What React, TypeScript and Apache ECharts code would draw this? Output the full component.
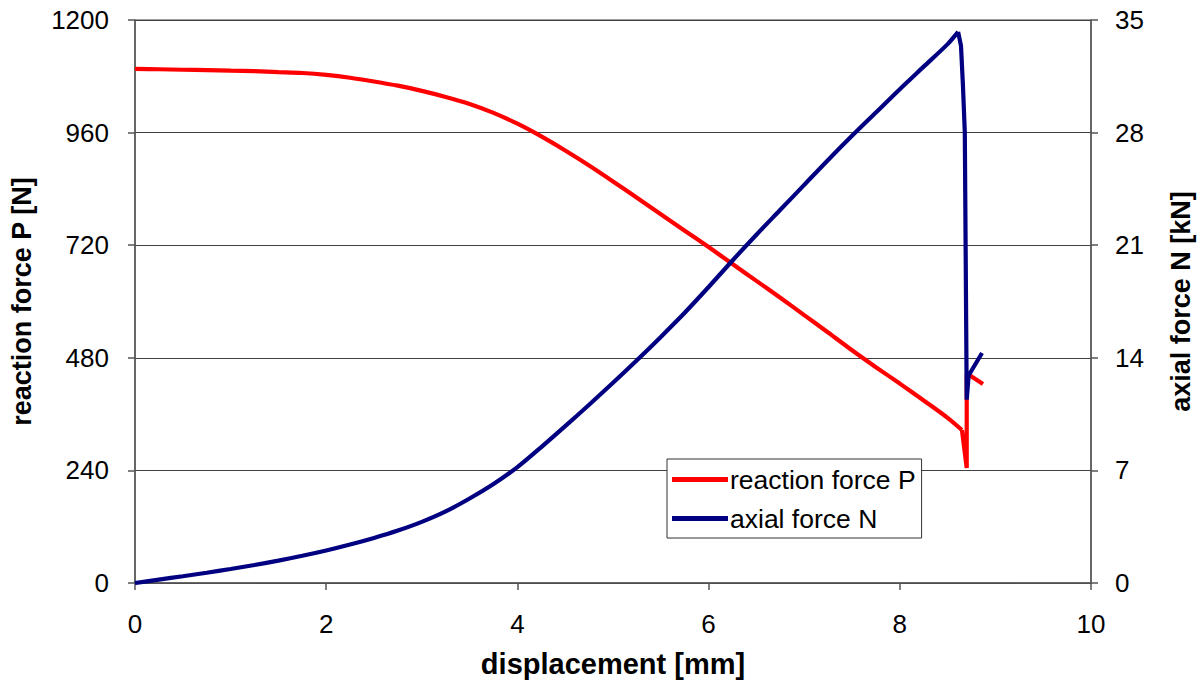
import React, { useEffect, useRef } from "react";
import * as echarts from "echarts";

// displacement [mm] and reaction force P [N] — smooth loading branch
const pX = [0, 0.25, 0.5, 0.75, 1.0, 1.25, 1.5, 1.75, 2.0, 2.25, 2.5, 2.75, 3.0, 3.25, 3.5, 3.75, 4.0, 4.25, 4.5, 4.75, 5.0, 5.25, 5.5, 5.75, 6.0, 6.25, 6.5, 6.75, 7.0, 7.25, 7.5, 7.75, 8.0, 8.25, 8.5, 8.65];
const pY = [1096, 1095, 1094, 1093, 1092, 1091, 1089, 1087, 1083, 1077, 1069, 1060, 1049, 1036, 1021, 1002, 979, 952, 922, 890, 856, 821, 786, 751, 716, 680, 644, 608, 571, 534, 496, 460, 425, 389, 352, 326];
// reaction force P — failure branch
const pFailX = [8.65, 8.7, 8.7, 8.73, 8.87];
const pFailY = [326, 245, 445, 443, 424];

// displacement [mm] and axial force N [kN] — smooth loading branch
const nX = [0, 0.25, 0.5, 0.75, 1.0, 1.25, 1.5, 1.75, 2.0, 2.25, 2.5, 2.75, 3.0, 3.25, 3.5, 3.75, 4.0, 4.25, 4.5, 4.75, 5.0, 5.25, 5.5, 5.75, 6.0, 6.25, 6.5, 6.75, 7.0, 7.25, 7.5, 7.75, 8.0, 8.25, 8.5, 8.61];
const nY = [0, 0.21, 0.42, 0.64, 0.87, 1.12, 1.39, 1.69, 2.02, 2.39, 2.8, 3.26, 3.8, 4.45, 5.25, 6.15, 7.2, 8.45, 9.75, 11.08, 12.45, 13.85, 15.3, 16.8, 18.4, 20.05, 21.65, 23.2, 24.75, 26.3, 27.8, 29.25, 30.7, 32.1, 33.5, 34.26];
// axial force N — failure branch
const nFailX = [8.61, 8.64, 8.66, 8.68, 8.7, 8.72, 8.86];
const nFailY = [34.26, 33.4, 31.0, 28.0, 11.4, 12.9, 14.3];

const seriesNames = ["reaction force P", "axial force N"];
const xName = "displacement [mm]";
const yLeftName = "reaction force P [N]";
const yRightName = "axial force N [kN]";

export default function App() {
  const ref = useRef<HTMLDivElement>(null);
  useEffect(() => {
    if (!ref.current) return;
    const chart = echarts.init(ref.current, undefined, { renderer: "svg" });
    const font = "'Liberation Sans', Arial, sans-serif";
    const axisCol = "#555555";
    const plain = (v: number) => String(v);
    const red = "#ff0000";
    const navy = "#000080";
    const lineSeries = (name: string, xs: number[], ys: number[], axis: number, color: string, smooth: number | boolean) => ({
      name,
      type: "line",
      yAxisIndex: axis,
      data: xs.map((x, i) => [x, ys[i]]),
      showSymbol: false,
      symbol: "none",
      smooth,
      lineStyle: { color, width: 4.2 },
      itemStyle: { color },
    });
    chart.setOption({
      animation: false,
      textStyle: { fontFamily: font },
      grid: {
        left: 135,
        right: 109,
        top: 20,
        bottom: 106,
        show: true,
        borderColor: "#404040",
        borderWidth: 1,
        backgroundColor: "transparent",
      },
      legend: {
        orient: "vertical",
        left: 667,
        top: 459,
        backgroundColor: "#ffffff",
        borderColor: "#333333",
        borderWidth: 1,
        borderRadius: 0,
        padding: [7, 6, 6, 5],
        itemGap: 12,
        itemWidth: 56,
        itemHeight: 5,
        icon: "rect",
        textStyle: { fontSize: 26.5, color: "#000", fontFamily: font, padding: [0, 0, 0, -3] },
        data: seriesNames,
      },
      xAxis: {
        type: "value",
        min: 0,
        max: 10,
        interval: 2,
        name: xName,
        nameLocation: "middle",
        nameGap: 66,
        nameTextStyle: { fontSize: 29, fontWeight: "bold", color: "#000", fontFamily: font },
        axisLine: { show: true, lineStyle: { color: axisCol, width: 1.5 } },
        axisTick: { show: true, inside: false, length: 7, lineStyle: { color: axisCol, width: 1.5 } },
        axisLabel: { fontSize: 26, color: "#000", margin: 28, fontFamily: font, formatter: plain },
        splitLine: { show: false },
      },
      yAxis: [
        {
          type: "value",
          min: 0,
          max: 1200,
          interval: 240,
          position: "left",
          name: yLeftName,
          nameLocation: "middle",
          nameRotate: 90,
          nameGap: 100,
          nameTextStyle: { fontSize: 27, fontWeight: "bold", color: "#000", fontFamily: font },
          axisLine: { show: true, lineStyle: { color: axisCol, width: 1.5 } },
          axisTick: { show: true, inside: false, length: 7, lineStyle: { color: axisCol, width: 1.5 } },
          axisLabel: { fontSize: 26, color: "#000", margin: 26, fontFamily: font, formatter: plain },
          splitLine: { show: true, lineStyle: { color: "#404040", width: 1 } },
        },
        {
          type: "value",
          min: 0,
          max: 35,
          interval: 7,
          position: "right",
          name: yRightName,
          nameLocation: "middle",
          nameRotate: 90,
          nameGap: 76,
          nameTextStyle: { fontSize: 27, fontWeight: "bold", color: "#000", fontFamily: font },
          axisLine: { show: true, lineStyle: { color: axisCol, width: 1.5 } },
          axisTick: { show: true, inside: false, length: 7, lineStyle: { color: axisCol, width: 1.5 } },
          axisLabel: { fontSize: 26, color: "#000", margin: 24, fontFamily: font, formatter: plain },
          splitLine: { show: false },
        },
      ],
      series: [
        lineSeries(seriesNames[0], pX, pY, 0, red, 0.3),
        lineSeries(seriesNames[0], pFailX, pFailY, 0, red, false),
        lineSeries(seriesNames[1], nX, nY, 1, navy, 0.3),
        lineSeries(seriesNames[1], nFailX, nFailY, 1, navy, false),
      ],
    });
    return () => chart.dispose();
  }, []);
  return (
    <div
      ref={ref}
      style={{ position: "fixed", left: 0, top: 0, width: 1202, height: 689, background: "#fff" }}
    />
  );
}
